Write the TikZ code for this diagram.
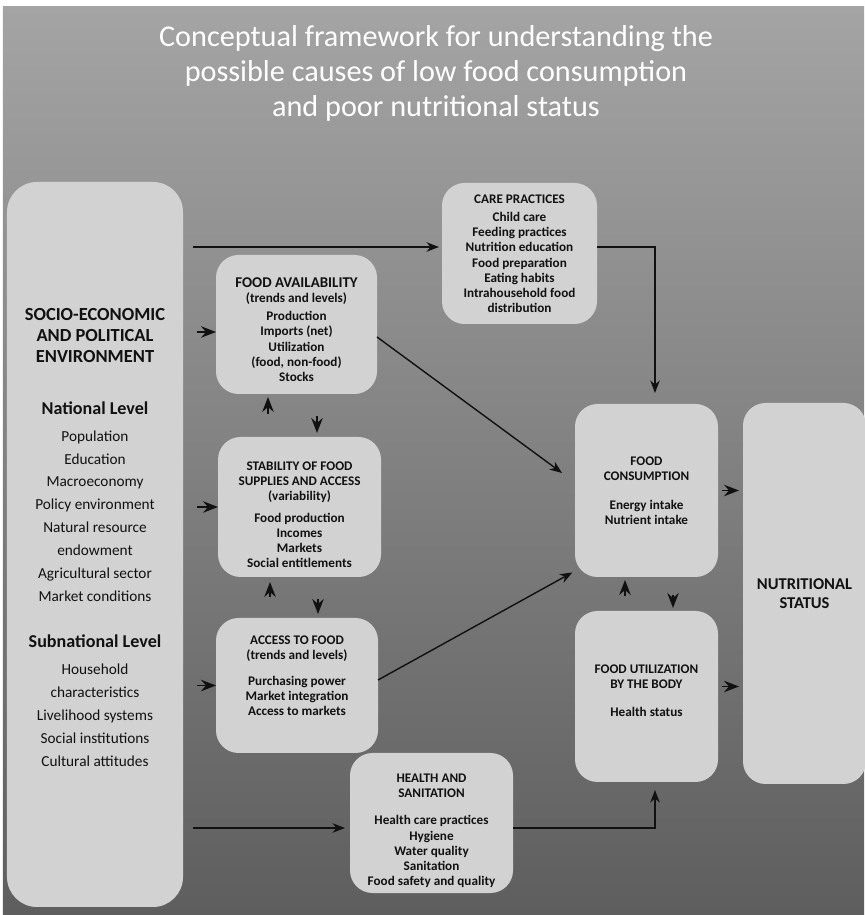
\documentclass[tikz,border=0pt]{standalone}
\usepackage{fontspec}
\setmainfont{Carlito}
\usetikzlibrary{arrows.meta,calc,positioning}
\definecolor{paper}{HTML}{FFFFFF}
\definecolor{shadetop}{HTML}{A4A4A4}
\definecolor{shadebot}{HTML}{5E5E5E}
\definecolor{panel}{HTML}{D2D2D2}
\definecolor{ink}{HTML}{111111}
\newcommand{\bighead}{\fontsize{10.5}{12}\selectfont\bfseries}
\newcommand{\levelhead}{\fontsize{10.3}{13}\selectfont\bfseries}

\begin{document}
\begin{tikzpicture}[
  >=Stealth,
  font=\fontsize{7.5}{8.6}\selectfont\bfseries,
  box/.style={
    rounded corners=4.5mm,
    fill=panel,
    inner sep=2pt,
    outer sep=0pt,
    align=center,
    text=ink
  },
  flow/.style={
    ink,
    line width=.8pt,
    -{Stealth[length=2.5mm,width=1.9mm,inset=.8mm]}
  },
  stub/.style={
    ink,
    line width=.9pt,
    -{Stealth[length=3mm,width=2.3mm,inset=1mm]}
  }
]

\useasboundingbox (0,0) rectangle (17.28,18.30);
\fill[paper] (0,0) rectangle (17.28,18.30);
\shade[top color=shadetop,bottom color=shadebot]
  (.06,0) rectangle (17.28,18.16);

\node[text=white,align=center,font=\fontsize{17.2}{19.8}\selectfont]
  (title) at (8.72,16.83)
  {Conceptual framework for understanding the\\
   possible causes of low food consumption\\
   and poor nutritional status};

\node[box,rounded corners=6mm,minimum width=3.52cm,minimum height=14.50cm,
      font=\fontsize{8.7}{13}\selectfont]
  (socio) at (1.90,7.41) {%
  \bighead SOCIO-ECONOMIC\\[-1.1pt] \bighead AND POLITICAL\\[-1.1pt]
  \bighead ENVIRONMENT\\[17pt]
  \levelhead National Level\\[2pt]
  Population\\ Education\\ Macroeconomy\\ Policy environment\\
  Natural resource\\ endowment\\ Agricultural sector\\ Market conditions\\[13.6pt]
  \levelhead Subnational Level\\[2.3pt]
  Household\\ characteristics\\ Livelihood systems\\
  Social institutions\\ Cultural attitudes\\[-4.6pt]\mbox{}};

\node[box,minimum width=3.10cm,minimum height=2.82cm]
  (care) at (10.39,13.23) {%
  CARE PRACTICES\\[2pt]
  Child care\\ Feeding practices\\ Nutrition education\\
  Food preparation\\ Eating habits\\ Intrahousehold food\\ distribution};

\node[box,minimum width=3.22cm,minimum height=2.78cm]
  (avail) at (5.93,11.81) {%
  \mbox{}\\[2.5pt]
  {\fontsize{8.5}{9}\selectfont FOOD AVAILABILITY}\\
  (trends and levels)\\[2pt]
  Production\\ Imports (net)\\ Utilization\\ (food,\ non-food)\\ Stocks};

\node[box,minimum width=3.26cm,minimum height=2.80cm]
  (stab) at (5.99,8.16) {%
  \mbox{}\\[5pt]
  STABILITY OF FOOD\\ SUPPLIES AND ACCESS\\ (variability)\\[4pt]
  Food production\\ Incomes\\ Markets\\ Social entitlements};

\node[box,minimum width=3.24cm,minimum height=2.70cm]
  (access) at (5.94,4.59) {%
  ACCESS TO FOOD\\ (trends and levels)\\[6pt]
  Purchasing power\\ Market integration\\ Access to markets\\[2.8pt]\mbox{}};

\node[box,minimum width=3.26cm,minimum height=2.80cm]
  (health) at (8.63,1.84) {%
  \mbox{}\\[5pt]
  HEALTH AND\\ SANITATION\\[7pt]
  Health care practices\\ Hygiene\\ Water quality\\
  Sanitation\\ Food safety and quality};

\node[box,minimum width=2.86cm,minimum height=3.46cm]
  (cons) at (12.93,8.49) {%
  FOOD\\ CONSUMPTION\\[8pt]
  Energy intake\\ Nutrient intake};

\node[box,minimum width=2.86cm,minimum height=3.42cm]
  (util) at (12.93,4.37) {%
  FOOD UTILIZATION\\ BY THE BODY\\[7pt]
  Health status\\[-1.8pt]\mbox{}};

\node[box,minimum width=2.46cm,minimum height=7.62cm,
      font=\fontsize{9.4}{10.8}\selectfont\bfseries]
  (status) at (16.09,6.43) {NUTRITIONAL\\ STATUS};

% long connectors
\draw[flow,shorten <=2mm,shorten >=.6mm]
  ([yshift=1.3mm]socio.east |- care.west) -- ([yshift=1.3mm]care.west);
\draw[flow,shorten >=2.2mm]
  ([yshift=1.3mm]care.east) -| ([xshift=1.7mm]cons.north);
\draw[flow,shorten >=3.2mm]
  ([yshift=-2.5mm]avail.east) -- ([yshift=1.6mm]cons.west);
\draw[flow,shorten >=.6mm]
  ([yshift=1.1mm]access.east) -- ([yshift=1.2mm]cons.south west);
\draw[flow,shorten <=2mm,shorten >=1mm]
  ([yshift=-1mm]socio.east |- health.west) -- ([yshift=-1mm]health.west);
\draw[flow,shorten >=1.6mm]
  ([yshift=-1mm]health.east) -| ([xshift=1.7mm]util.south);

% short stubs
\draw[stub,shorten <=2.8mm]
  ([yshift=-1.5mm]socio.east |- avail.west) -- ([yshift=-1.5mm]avail.west);
\draw[stub,shorten <=2.8mm] (socio.east |- stab.west) -- (stab.west);
\draw[stub,shorten <=2.8mm] (socio.east |- access.west) -- (access.west);

\draw[stub,shorten <=4.6mm,shorten >=.6mm]
  ([xshift=-.63cm]stab.north) -- ([xshift=-.63cm]stab.north |- avail.south);
\draw[stub,shorten <=4.4mm,shorten >=.8mm]
  ([xshift=.35cm]avail.south -| stab.north) -- ([xshift=.35cm]stab.north);
\draw[stub,shorten <=4.2mm,shorten >=1.0mm]
  ([xshift=-.59cm]access.north -| stab.south) -- ([xshift=-.59cm]stab.south);
\draw[stub,shorten <=4.4mm,shorten >=.8mm]
  ([xshift=.37cm]stab.south) -- ([xshift=.37cm]stab.south |- access.north);

\draw[stub,shorten <=3.0mm,shorten >=.6mm]
  ([xshift=-.43cm]util.north) -- ([xshift=-.43cm]cons.south);
\draw[stub,shorten <=3.6mm,shorten >=.6mm]
  ([xshift=.53cm]cons.south) -- ([xshift=.53cm]util.north);

\draw[stub,shorten <=.8mm,shorten >=.8mm]
  (cons.east) -- (cons.east -| status.west);
\draw[stub,shorten <=.8mm,shorten >=.8mm]
  ([yshift=.2cm]util.east) -- ([yshift=.2cm]util.east -| status.west);

\end{tikzpicture}
\end{document}
